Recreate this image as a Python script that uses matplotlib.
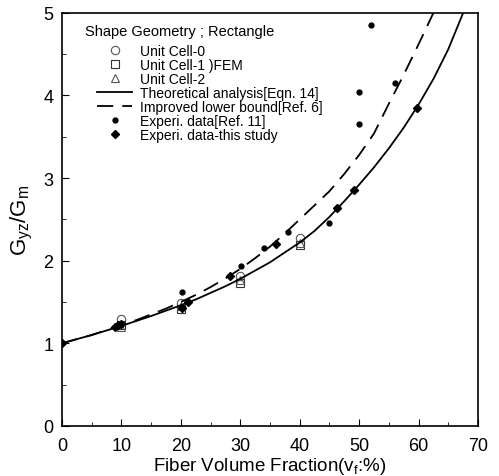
import matplotlib
matplotlib.use('Agg')
import matplotlib.pyplot as plt
from matplotlib.ticker import MultipleLocator

plt.rcParams['font.family'] = ['Liberation Sans', 'DejaVu Sans']
plt.rcParams['mathtext.fontset'] = 'custom'
plt.rcParams['mathtext.rm'] = 'Liberation Sans'
plt.rcParams['mathtext.it'] = 'Liberation Sans'

# Theoretical analysis [Eqn. 14] (solid)
theory_vf = [0, 2.5, 5, 7.5, 10, 12.5, 15, 17.5, 20, 22.5, 25, 27.5, 30, 32.5, 35,
             37.5, 40, 42.5, 45, 47.5, 50, 52.5, 55, 57.5, 60, 62.5, 65, 67.5]
theory_g = [1.0, 1.05, 1.1, 1.155, 1.21, 1.27, 1.33, 1.395, 1.46, 1.53, 1.61, 1.69, 1.78,
            1.88, 1.98, 2.1, 2.22, 2.36, 2.53, 2.72, 2.92, 3.13, 3.36, 3.61, 3.89, 4.2,
            4.56, 5.0]

# Improved lower bound [Ref. 6] (dashed)
bound_vf = [0, 2.5, 5, 7.5, 10, 12.5, 15, 17.5, 20, 22.5, 25, 27.5, 30, 32.5, 35,
            37.5, 40, 42.5, 45, 47.5, 50, 52.5, 55, 57.5, 60, 62.5]
bound_g = [1.0, 1.05, 1.1, 1.16, 1.22, 1.28, 1.35, 1.42, 1.5, 1.585, 1.68, 1.785, 1.9,
           2.03, 2.17, 2.33, 2.5, 2.67, 2.84, 3.05, 3.28, 3.54, 3.9, 4.25, 4.62, 5.0]

# FEM unit cells
cell_vf = [10, 20, 30, 40]
cell0_g = [1.29, 1.49, 1.81, 2.28]
cell1_g = [1.22, 1.42, 1.73, 2.19]
cell2_g = [1.2, 1.45, 1.77, 2.22]

# Experimental data [Ref. 11]
ref11_vf = [9.5, 20.2, 30.2, 34, 38, 45, 50, 50, 52, 56]
ref11_g = [1.22, 1.62, 1.93, 2.15, 2.35, 2.46, 3.65, 4.04, 4.85, 4.15]

# Experimental data - this study
exp_vf = [0, 9, 9.5, 10, 20.2, 21.2, 28.3, 36, 46.3, 49.2, 59.7]
exp_g = [1.0, 1.2, 1.22, 1.23, 1.43, 1.5, 1.81, 2.2, 2.64, 2.85, 3.85]

fig = plt.figure(figsize=(4.99, 4.77), dpi=100)
ax = fig.add_axes([0.124, 0.105, 0.834, 0.866])

ax.plot(cell_vf, cell0_g, 'o', ms=6, mfc='none', mec='#555555', mew=0.8, label='Unit Cell-0')
ax.plot(cell_vf, cell1_g, 's', ms=6, mfc='none', mec='#333333', mew=0.8, label='Unit Cell-1 )FEM')
ax.plot(cell_vf, cell2_g, '^', ms=6, mfc='none', mec='#555555', mew=0.8, label='Unit Cell-2')
ax.plot(theory_vf, theory_g, '-', color='black', lw=1.3, label='Theoretical analysis[Eqn. 14]')
ax.plot(bound_vf, bound_g, color='black', lw=1.3, dashes=(9, 5),
        label='Improved lower bound[Ref. 6]')
ax.plot(ref11_vf, ref11_g, 'o', color='black', ms=3.5, ls='none', label='Experi. data[Ref. 11]')
ax.plot(exp_vf, exp_g, 'D', color='black', ms=4, ls='none', label='Experi. data-this study')

ax.set_xlim(0, 70)
ax.set_ylim(0, 5)
ax.xaxis.set_major_locator(MultipleLocator(10))
ax.xaxis.set_minor_locator(MultipleLocator(5))
ax.yaxis.set_major_locator(MultipleLocator(1))
ax.yaxis.set_minor_locator(MultipleLocator(0.5))
ax.tick_params(which='both', direction='in', top=False, right=False)
ax.tick_params(which='major', length=5, labelsize=13)
ax.tick_params(axis='x', which='major', pad=8)
ax.tick_params(axis='y', which='major', pad=6)
ax.tick_params(which='minor', length=3)
for s in ax.spines.values():
    s.set_linewidth(1.2)

ax.set_xlabel('Fiber Volume Fraction(v$_f$:%)', fontsize=13.5, labelpad=1)
ax.set_ylabel('G$_{yz}$/G$_m$', fontsize=16, labelpad=6)

ax.text(0.055, 0.956, 'Shape Geometry ; Rectangle', transform=ax.transAxes,
        fontsize=10.5, va='center', ha='left')
ax.legend(loc='upper left', bbox_to_anchor=(0.085, 0.925), frameon=False,
          fontsize=10, labelspacing=0.0, handlelength=2.5, handletextpad=0.6,
          borderpad=0, borderaxespad=0)

fig.savefig('out.png', dpi=100)
